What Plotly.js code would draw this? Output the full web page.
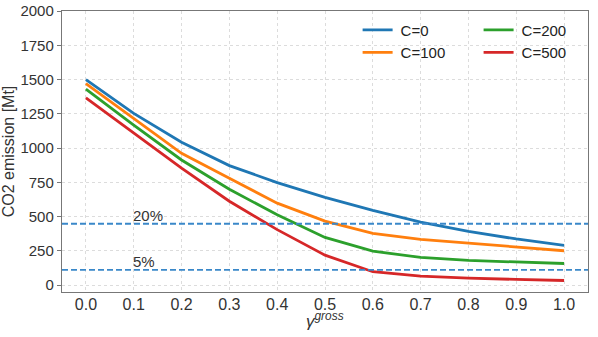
<!DOCTYPE html>
<html>
<head>
<meta charset="utf-8">
<script src="https://cdn.plot.ly/plotly-3.0.1.min.js"></script>
<style>html,body{margin:0;padding:0;background:#fff}</style>
</head>
<body>
<div id="myDiv" style="width:598px;height:337px"></div>
<script>
var gamma = [0.0, 0.1, 0.2, 0.3, 0.4, 0.5, 0.6, 0.7, 0.8, 0.9, 1.0];
var c0   = [1500, 1253, 1042, 872, 748, 640, 545, 460, 392, 337, 290];
var c100 = [1471, 1217, 962, 780, 598, 467, 377, 334, 307, 280, 251];
var c200 = [1430, 1168, 913, 700, 513, 348, 248, 202, 180, 168, 158];
var c500 = [1367, 1108, 853, 612, 405, 219, 98, 66, 51, 42, 34];

var refLevels = [448, 112];
var refLabels = ['20%', '5%'];

var font = 'Liberation Sans, Arial, sans-serif';

function line(y, name, color, legend, rank) {
  return {x: gamma, y: y, name: '\u2009' + name, type: 'scatter', mode: 'lines',
    line: {color: color, width: 2.8}, legend: legend, legendrank: rank};
}

var data = [
  line(c0, 'C=0', '#1f77b4', 'legend', 1),
  line(c100, 'C=100', '#ff7f0e', 'legend', 2),
  line(c200, 'C=200', '#2ca02c', 'legend2', 1),
  line(c500, 'C=500', '#d62728', 'legend2', 2)
];

var shapes = refLevels.map(function (v) {
  return {type: 'line', xref: 'paper', x0: 0, x1: 1, yref: 'y', y0: v, y1: v,
    line: {color: '#3a88c9', width: 1.8, dash: '6px,3px'}, layer: 'above'};
});

var annotations = refLevels.map(function (v, i) {
  return {x: 0.1, y: v, xref: 'x', yref: 'y', text: refLabels[i], showarrow: false,
    xanchor: 'left', yanchor: 'bottom', yshift: -2, xshift: -3, font: {size: 15, color: '#333'}};
});
// x axis title as annotation so it can sit close to the tick labels
annotations.push({x: 0.5, y: 0, xref: 'paper', yref: 'paper', xanchor: 'center', yanchor: 'top',
  yshift: -15, showarrow: false, text: '<i>γ</i><sup><i>gross</i></sup>',
  font: {size: 17, color: '#333'}});

var legendStyle = {font: {size: 15, color: '#222'}, bgcolor: 'rgba(0,0,0,0)',
  tracegroupgap: 0, itemwidth: 30, yanchor: 'top', xanchor: 'left'};

var layout = {
  width: 598, height: 337,
  margin: {l: 62, r: 10, t: 11, b: 45},
  paper_bgcolor: '#fff', plot_bgcolor: '#fff',
  font: {family: font, size: 15, color: '#333'},
  showlegend: true,
  legend: Object.assign({x: 0.562, y: 0.991}, legendStyle),
  legend2: Object.assign({x: 0.792, y: 0.991}, legendStyle),
  xaxis: {
    range: [-0.05, 1.05], tickvals: gamma, ticktext: gamma.map(function (v) { return v.toFixed(1); }),
    showgrid: true, gridcolor: '#dcdcdc', griddash: 'dot', gridwidth: 1,
    showline: true, linecolor: '#777', linewidth: 1.2, mirror: true,
    ticks: '', zeroline: false, ticklabelstandoff: -2,
    tickfont: {size: 16, color: '#333'}
  },
  yaxis: {
    range: [-50, 2000], dtick: 250, tick0: 0,
    showgrid: true, gridcolor: '#dcdcdc', griddash: 'dot', gridwidth: 1,
    showline: true, linecolor: '#777', linewidth: 1.2, mirror: true,
    ticks: 'outside', ticklen: 4, tickcolor: '#777', zeroline: false,
    tickfont: {size: 15, color: '#333'},
    title: {text: 'CO2 emission [Mt]', font: {size: 16, color: '#333'}, standoff: 3}
  },
  shapes: shapes,
  annotations: annotations
};

Plotly.newPlot(document.getElementById('myDiv'), data, layout, {displayModeBar: false, staticPlot: true});
</script>
</body>
</html>
